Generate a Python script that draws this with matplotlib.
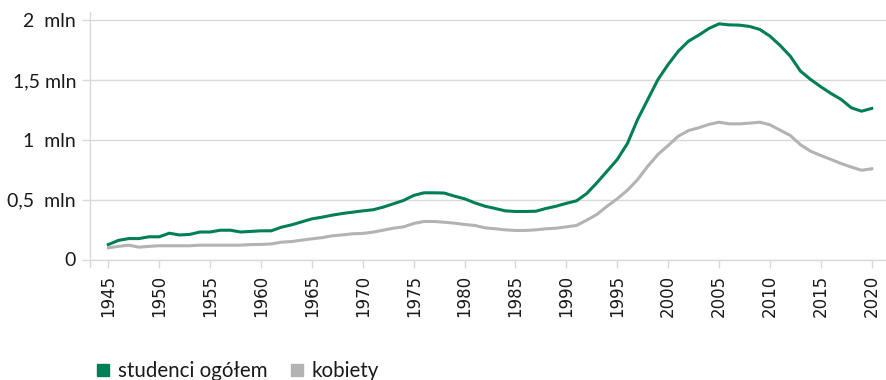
"""
studenci.py - liczba studentów w Polsce 1945-2020 (ogółem i kobiety)
"""

import matplotlib
matplotlib.use("Agg")
from matplotlib import pyplot as plt
from matplotlib.lines import Line2D

years = list(range(1945, 2021))

# liczba studentów, mln
students_total = [
    0.125, 0.160, 0.175, 0.175, 0.190, 0.190, 0.220, 0.205, 0.210, 0.230,
    0.230, 0.245, 0.245, 0.230, 0.235, 0.240, 0.240, 0.270, 0.290, 0.315,
    0.340, 0.354, 0.371, 0.385, 0.396, 0.407, 0.416, 0.438, 0.466, 0.494,
    0.536, 0.558, 0.558, 0.556, 0.530, 0.508, 0.474, 0.446, 0.427, 0.407,
    0.402, 0.402, 0.404, 0.427, 0.446, 0.470, 0.491, 0.552, 0.642, 0.739,
    0.837, 0.971, 1.172, 1.339, 1.506, 1.632, 1.743, 1.827, 1.877, 1.933,
    1.972, 1.963, 1.961, 1.950, 1.925, 1.869, 1.791, 1.701, 1.576, 1.506,
    1.445, 1.389, 1.339, 1.269, 1.241, 1.264,
]
students_women = [
    0.098, 0.110, 0.120, 0.103, 0.110, 0.115, 0.115, 0.115, 0.115, 0.120,
    0.120, 0.120, 0.120, 0.120, 0.125, 0.126, 0.130, 0.145, 0.150, 0.162,
    0.173, 0.183, 0.198, 0.206, 0.215, 0.218, 0.229, 0.245, 0.262, 0.273,
    0.301, 0.318, 0.318, 0.312, 0.304, 0.293, 0.285, 0.265, 0.257, 0.248,
    0.243, 0.243, 0.248, 0.257, 0.262, 0.273, 0.285, 0.329, 0.377, 0.446,
    0.508, 0.580, 0.669, 0.781, 0.879, 0.954, 1.032, 1.079, 1.102, 1.130,
    1.149, 1.135, 1.135, 1.141, 1.149, 1.127, 1.082, 1.038, 0.960, 0.906,
    0.870, 0.837, 0.803, 0.773, 0.747, 0.759,
]

y_ticks = [0, 0.5, 1, 1.5, 2]
y_labels = ["0", "0,5  mln", "1  mln", "1,5 mln", "2  mln"]
x_ticks = list(range(1945, 2021, 5))

GREEN = "#007F56"
GREY = "#B3B3B3"
GRID = "#D9D9D9"
TEXT = "#1A1A1A"


def do_plot():
    fig = plt.figure(figsize=(8.87, 3.80), dpi=100)
    ax = fig.add_axes([90 / 887, 1 - 259.5 / 380, 797 / 887, 248 / 380])

    ax.plot(years, students_total, color=GREEN, lw=2.2, solid_joinstyle="round")
    ax.plot(years, students_women, color=GREY, lw=2.2, solid_joinstyle="round")

    ax.set_xlim(1943.2, 2021.5)
    ax.set_ylim(0, 2.075)

    for side in ("top", "right", "left"):
        ax.spines[side].set_visible(False)
    ax.spines["bottom"].set_color(GRID)
    ax.spines["bottom"].set_linewidth(1.0)
    # left axis line runs slightly below the zero line
    ax.add_line(Line2D([0, 0], [-0.03, 1], transform=ax.transAxes,
                       color=GRID, lw=1.0, clip_on=False))

    ax.set_yticks(y_ticks)
    ax.set_yticklabels(y_labels, fontfamily="Lato", fontsize=14, color=TEXT)
    ax.yaxis.grid(True, color=GRID, lw=1.0)
    ax.set_axisbelow(True)
    ax.tick_params(axis="y", length=6, width=1.0, color=GRID, pad=4)

    ax.set_xticks(x_ticks)
    ax.set_xticklabels([str(x) for x in x_ticks], rotation=90,
                       fontfamily="DejaVu Sans", fontsize=12, color=TEXT)
    ax.tick_params(axis="x", length=6, width=1.0, color=GRID, pad=5)

    handles = [
        Line2D([], [], ls="none", marker="s", ms=9, color=GREEN),
        Line2D([], [], ls="none", marker="s", ms=9, color=GREY),
    ]
    fig.legend(handles, ["studenci ogółem", "kobiety"], loc="lower left",
               bbox_to_anchor=(96 / 887, -0.002), ncol=2, frameon=False,
               prop={"family": "Lato", "size": 14.8}, handlelength=0.7,
               handletextpad=0.35, columnspacing=1.1, labelcolor=TEXT,
               borderpad=0, borderaxespad=0)

    fig.savefig("out.png", dpi=100)


if __name__ == "__main__":
    do_plot()
